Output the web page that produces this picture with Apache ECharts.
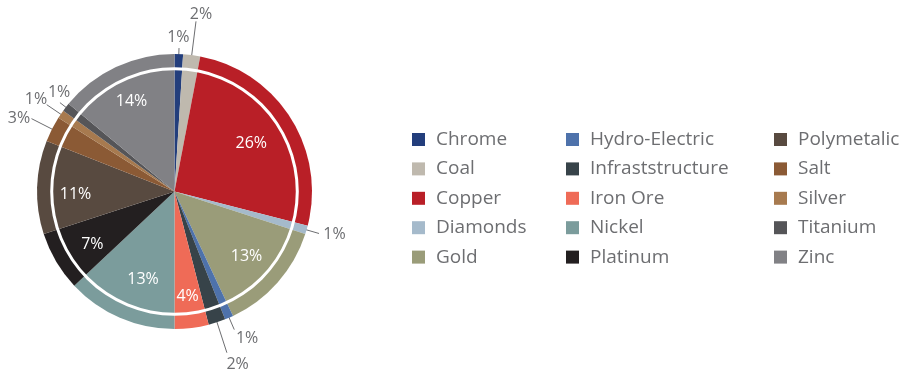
<!DOCTYPE html>
<html>
<head>
<meta charset="utf-8">
<script src="https://cdn.jsdelivr.net/npm/echarts@6/dist/echarts.min.js"></script>
<style>
html,body{margin:0;padding:0;background:#fff;}
#chart{width:905px;height:370px;}
</style>
</head>
<body>
<div id="chart"></div>
<script>
// ---- data ----
const categories = ['Chrome','Coal','Copper','Diamonds','Gold','Hydro-Electric','Infraststructure','Iron Ore','Nickel','Platinum','Polymetalic','Salt','Silver','Titanium','Zinc'];
const values = [1, 2, 26, 1, 13, 1, 2, 4, 13, 7, 11, 3, 1, 1, 14];
const legendCol1 = ['Chrome','Coal','Copper','Diamonds','Gold'];
const legendCol2 = ['Hydro-Electric','Infraststructure','Iron Ore','Nickel','Platinum'];
const legendCol3 = ['Polymetalic','Salt','Silver','Titanium','Zinc'];

// ---- styles ----
const colors = ['#233e7c','#bfb9ae','#b91f27','#a5bacb','#9a9c79','#4e72ab','#374349','#ef6b57','#7b9c9c','#231f20','#584a40','#8b5a35','#a77a4f','#555558','#818185'];
// leader line length beyond the pie edge, per small slice
const lineLen = {'Chrome':6,'Coal':34,'Diamonds':13,'Hydro-Electric':13,'Infraststructure':32,'Salt':23,'Silver':17,'Titanium':7.5};
// label offset from the leader line end (label centre)
const labelOffset = {'Chrome':[-0.6,-12],'Coal':[5,-7.5],'Diamonds':[15.5,0],'Hydro-Electric':[12.8,8.3],'Infraststructure':[10.7,10.3],'Salt':[-12.5,-1.3],'Silver':[-10.8,-6.7],'Titanium':[-0.8,-11]};
// inside label placement: [radius, angle tweak in degrees]
const insidePlace = {'Copper':[91,0],'Gold':[96,0],'Iron Ore':[105,0],'Nickel':[92,-3.4],'Platinum':[97,-1.5],'Polymetalic':[99,-2.9],'Zinc':[101,0]};
const CENTER = [174.5, 191.5];
const R = 137.5;
const textGray = '#6d6e71';
const FONT = '"Open Sans", "Noto Sans", sans-serif';

const total = values.reduce((a, b) => a + b, 0);
const midAngle = [];
{
  let cum = 0;
  values.forEach(v => { midAngle.push((cum + v / 2) / total * 360); cum += v; });
}

const pieData = categories.map((n, i) => {
  const inside = values[i] >= 4;
  return {
    name: n,
    value: values[i],
    itemStyle: { color: colors[i] },
    label: inside
      ? { position: 'inside', color: '#ffffff' }
      : { position: 'outside', color: textGray },
    labelLine: { show: !inside, length: lineLen[n] || 10, length2: 0 }
  };
});

function polar(r, deg) {
  const a = deg * Math.PI / 180;
  return [CENTER[0] + r * Math.sin(a), CENTER[1] - r * Math.cos(a)];
}

function layoutLabel(p) {
  const i = p.dataIndex;
  const n = categories[i];
  if (values[i] >= 4) {
    const pl = insidePlace[n] || [96, 0];
    const pt = polar(pl[0], midAngle[i] + pl[1]);
    return { x: pt[0], y: pt[1] + 1, align: 'center', verticalAlign: 'middle' };
  }
  const len = lineLen[n] || 10;
  const s = polar(R - 3.5, midAngle[i]);
  const e = polar(R + len, midAngle[i]);
  const off = labelOffset[n] || [0, 0];
  return {
    x: e[0] + off[0], y: e[1] + off[1] + 1, align: 'center', verticalAlign: 'middle',
    labelLinePoints: [s, e, e]
  };
}

const legendBase = {
  orient: 'vertical',
  top: 129.5,
  padding: 0,
  icon: 'rect',
  itemWidth: 13,
  itemHeight: 13,
  itemGap: 9.4,
  selectedMode: false,
  textStyle: { fontFamily: FONT, fontSize: 19, color: textGray, lineHeight: 20, padding: [0, 0, 0, 6] }
};

const chart = echarts.init(document.getElementById('chart'), null, { renderer: 'canvas' });
chart.setOption({
  animation: false,
  backgroundColor: '#ffffff',
  legend: [
    Object.assign({}, legendBase, { left: 412, data: legendCol1 }),
    Object.assign({}, legendBase, { left: 566, data: legendCol2 }),
    Object.assign({}, legendBase, { left: 774, data: legendCol3 })
  ],
  series: [
    {
      type: 'pie',
      center: CENTER,
      radius: [0, R],
      startAngle: 90,
      clockwise: true,
      avoidLabelOverlap: false,
      silent: true,
      data: pieData,
      label: {
        show: true,
        fontFamily: FONT,
        fontSize: 16,
        formatter: p => Math.round(p.percent) + '%'
      },
      labelLine: { lineStyle: { color: '#6d6e71', width: 1 } },
      labelLayout: layoutLabel,
      itemStyle: { borderWidth: 0 },
      emphasis: { disabled: true }
    },
    {
      type: 'pie',
      center: CENTER,
      radius: [R * 0.882, R * 0.904],
      silent: true,
      label: { show: false },
      labelLine: { show: false },
      emphasis: { disabled: true },
      data: [{ value: 1, name: '', itemStyle: { color: '#ffffff' } }]
    }
  ]
});
</script>
</body>
</html>
